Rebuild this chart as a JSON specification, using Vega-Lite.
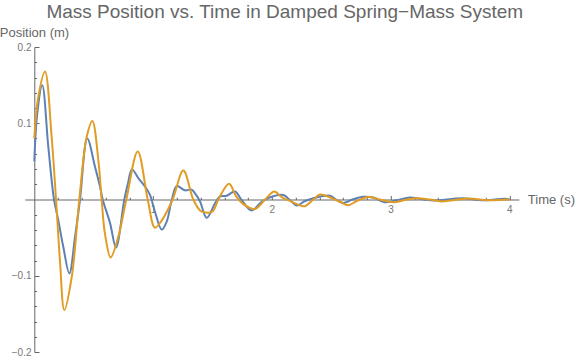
{
  "$schema": "https://vega.github.io/schema/vega-lite/v6.json",
  "autosize": "none",
  "width": 494,
  "height": 305,
  "padding": {"left": 24.8, "top": 47, "right": 57.2, "bottom": 8},
  "background": "white",
  "config": {"view": {"stroke": null}, "font": "Liberation Sans"},
  "title": {"text": "Mass Position vs. Time in Damped Spring−Mass System", "fontSize": 19, "fontWeight": "normal", "color": "#666666", "font": "Liberation Sans", "anchor": "middle", "frame": "group", "dx": 13},
  "datasets": {
    "blue": [
      {"t": 0.000, "pos": 0.050}, {"t": 0.025, "pos": 0.113}, {"t": 0.067, "pos": 0.150}, {"t": 0.118, "pos": 0.069},
      {"t": 0.166, "pos": 0.000}, {"t": 0.202, "pos": -0.027}, {"t": 0.244, "pos": -0.062}, {"t": 0.295, "pos": -0.097},
      {"t": 0.343, "pos": -0.049}, {"t": 0.385, "pos": 0.000}, {"t": 0.446, "pos": 0.080}, {"t": 0.511, "pos": 0.043},
      {"t": 0.553, "pos": 0.017}, {"t": 0.576, "pos": 0.000}, {"t": 0.638, "pos": -0.031}, {"t": 0.688, "pos": -0.063},
      {"t": 0.758, "pos": 0.000}, {"t": 0.790, "pos": 0.022}, {"t": 0.822, "pos": 0.0395}, {"t": 0.876, "pos": 0.028},
      {"t": 0.932, "pos": 0.017}, {"t": 0.974, "pos": 0.006}, {"t": 1.016, "pos": -0.016}, {"t": 1.073, "pos": -0.0395},
      {"t": 1.115, "pos": -0.029}, {"t": 1.157, "pos": -0.001}, {"t": 1.199, "pos": 0.0175}, {"t": 1.269, "pos": 0.012},
      {"t": 1.325, "pos": 0.013}, {"t": 1.353, "pos": 0.008}, {"t": 1.394, "pos": -0.002}, {"t": 1.452, "pos": -0.024},
      {"t": 1.522, "pos": -0.005}, {"t": 1.564, "pos": 0.004}, {"t": 1.620, "pos": 0.005}, {"t": 1.690, "pos": 0.0105},
      {"t": 1.747, "pos": -0.001}, {"t": 1.830, "pos": -0.0145}, {"t": 1.915, "pos": -0.003}, {"t": 1.985, "pos": 0.003},
      {"t": 2.097, "pos": 0.006}, {"t": 2.167, "pos": -0.003}, {"t": 2.210, "pos": -0.008}, {"t": 2.280, "pos": -0.002},
      {"t": 2.420, "pos": 0.0043}, {"t": 2.490, "pos": 0.005}, {"t": 2.540, "pos": 0.000}, {"t": 2.600, "pos": -0.0045},
      {"t": 2.680, "pos": 0.000}, {"t": 2.770, "pos": 0.0035}, {"t": 2.855, "pos": 0.0025}, {"t": 2.953, "pos": -0.0036},
      {"t": 3.050, "pos": -0.001}, {"t": 3.164, "pos": 0.0026}, {"t": 3.276, "pos": 0.000}, {"t": 3.370, "pos": -0.0013},
      {"t": 3.600, "pos": 0.0015}, {"t": 3.770, "pos": -0.001}, {"t": 3.960, "pos": 0.001}, {"t": 4.000, "pos": 0.000}
    ],
    "orange": [
      {"t": 0.000, "pos": 0.080}, {"t": 0.034, "pos": 0.135}, {"t": 0.090, "pos": 0.168}, {"t": 0.146, "pos": 0.082},
      {"t": 0.183, "pos": 0.000}, {"t": 0.216, "pos": -0.080}, {"t": 0.253, "pos": -0.145}, {"t": 0.315, "pos": -0.102},
      {"t": 0.379, "pos": 0.000}, {"t": 0.441, "pos": 0.082}, {"t": 0.489, "pos": 0.103}, {"t": 0.539, "pos": 0.052},
      {"t": 0.567, "pos": 0.000}, {"t": 0.595, "pos": -0.045}, {"t": 0.643, "pos": -0.076}, {"t": 0.707, "pos": -0.049},
      {"t": 0.775, "pos": 0.000}, {"t": 0.871, "pos": 0.063}, {"t": 0.955, "pos": 0.000}, {"t": 1.016, "pos": -0.037},
      {"t": 1.075, "pos": -0.027}, {"t": 1.165, "pos": 0.000}, {"t": 1.255, "pos": 0.038}, {"t": 1.339, "pos": 0.000},
      {"t": 1.400, "pos": -0.015}, {"t": 1.440, "pos": -0.017}, {"t": 1.500, "pos": -0.016}, {"t": 1.550, "pos": 0.000},
      {"t": 1.640, "pos": 0.0205}, {"t": 1.700, "pos": 0.004}, {"t": 1.760, "pos": -0.006}, {"t": 1.858, "pos": -0.0124},
      {"t": 1.943, "pos": 0.000}, {"t": 2.021, "pos": 0.0105}, {"t": 2.083, "pos": 0.003}, {"t": 2.168, "pos": -0.003},
      {"t": 2.240, "pos": -0.008}, {"t": 2.280, "pos": -0.0088}, {"t": 2.350, "pos": 0.000}, {"t": 2.406, "pos": 0.0066},
      {"t": 2.470, "pos": 0.004}, {"t": 2.574, "pos": -0.003}, {"t": 2.644, "pos": -0.0075}, {"t": 2.715, "pos": -0.002},
      {"t": 2.813, "pos": 0.0034}, {"t": 2.911, "pos": 0.000}, {"t": 3.023, "pos": -0.0036}, {"t": 3.136, "pos": 0.000},
      {"t": 3.220, "pos": 0.0017}, {"t": 3.330, "pos": 0.000}, {"t": 3.430, "pos": -0.0025}, {"t": 3.655, "pos": 0.0013},
      {"t": 3.823, "pos": -0.001}, {"t": 4.000, "pos": 0.000}
    ]
  },
  "encoding": {
    "x": {
      "field": "t", "type": "quantitative",
      "scale": {"domain": [-0.08, 4.08], "nice": false, "zero": false},
      "axis": {
        "title": "Time (s)", "titleAngle": 0, "titleAlign": "left", "titleBaseline": "middle",
        "titleX": 502.5, "titleY": 0, "titleFontSize": 13, "titleFontWeight": "normal", "titleColor": "#666666", "titleFont": "Liberation Sans",
        "offset": -152.5, "grid": false,
        "values": [0.2, 0.4, 0.6, 0.8, 1, 1.2, 1.4, 1.6, 1.8, 2, 2.2, 2.4, 2.6, 2.8, 3, 3.2, 3.4, 3.6, 3.8, 4],
        "labelExpr": "abs(datum.value - round(datum.value)) < 1e-6 ? format(datum.value, 'd') : ''",
        "tickSize": {"condition": {"test": "abs(datum.value - round(datum.value)) < 1e-6", "value": -4}, "value": -2.3},
        "labelPadding": 9, "labelFontSize": 10, "labelColor": "#777777", "labelFont": "Liberation Sans",
        "domainColor": "#666666", "tickColor": "#666666", "labelFlush": false, "labelOverlap": false
      }
    },
    "y": {
      "field": "pos", "type": "quantitative",
      "scale": {"domain": [-0.2, 0.2], "nice": false, "zero": false},
      "axis": {
        "title": "Position (m)", "titleAngle": 0, "titleAlign": "left", "titleBaseline": "alphabetic",
        "titleX": -35, "titleY": -11, "titleFontSize": 13, "titleFontWeight": "normal", "titleColor": "#666666", "titleFont": "Liberation Sans",
        "offset": -9.5, "grid": false,
        "values": [-0.2, -0.18, -0.16, -0.14, -0.12, -0.1, -0.08, -0.06, -0.04, -0.02, 0.02, 0.04, 0.06, 0.08, 0.1, 0.12, 0.14, 0.16, 0.18, 0.2],
        "labelExpr": "abs(datum.value*10 - round(datum.value*10)) < 1e-6 ? format(datum.value, '.1f') : ''",
        "tickSize": {"condition": {"test": "abs(datum.value*10 - round(datum.value*10)) < 1e-6", "value": -4.7}, "value": -2.3},
        "labelPadding": 8, "labelFontSize": 10, "labelColor": "#777777", "labelFont": "Liberation Sans",
        "domainColor": "#666666", "tickColor": "#666666", "labelFlush": false, "labelOverlap": false
      }
    }
  },
  "layer": [
    {"data": {"name": "blue"}, "mark": {"type": "line", "interpolate": "catmull-rom", "color": "#5E81B5", "strokeWidth": 2, "clip": true}},
    {"data": {"name": "orange"}, "mark": {"type": "line", "interpolate": "catmull-rom", "color": "#E19C24", "strokeWidth": 2, "clip": true}}
  ]
}
